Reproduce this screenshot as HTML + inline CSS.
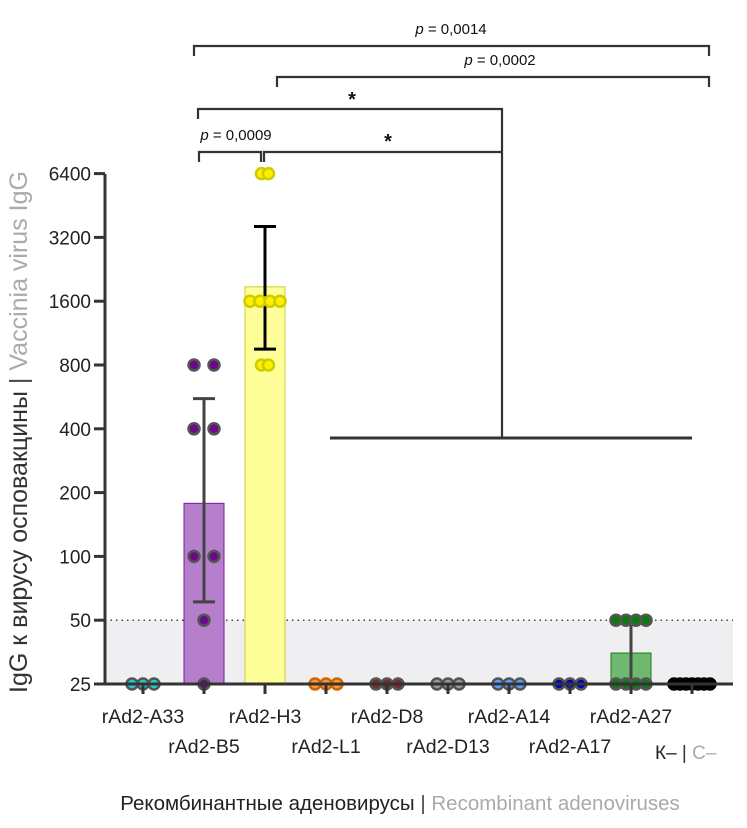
<!DOCTYPE html>
<html><head><meta charset="utf-8"><style>
body{margin:0;background:#fff;}
svg text{font-family:"Liberation Sans","Noto Sans CJK SC",sans-serif;}
</style></head><body>
<svg id="chart" width="747" height="823" viewBox="0 0 747 823" xmlns="http://www.w3.org/2000/svg">
<g id="bg"></g><g id="marks"></g><g id="axes"></g><g id="ann"></g>
</svg>
<script>
const categories=["rAd2-A33","rAd2-B5","rAd2-H3","rAd2-L1","rAd2-D8","rAd2-D13","rAd2-A14","rAd2-A17","rAd2-A27","К–"];
const barMeans=[25,178,1870,25,25,25,25,25,35,25];
const errLow=[null,61,950,null,null,null,null,null,25,null];
const errHigh=[null,555,3600,null,null,null,null,null,50,null];
const points=[[25,25,25],[800,800,400,400,100,100,50,25],[6400,6400,1600,1600,1600,1600,800,800],[25,25,25],[25,25,25],[25,25,25],[25,25,25],[25,25,25],[50,50,50,50,25,25,25,25],[25,25,25,25,25,25,25]];
const yTicks=[25,50,100,200,400,800,1600,3200,6400];
const fills=["#33dddd","#b57fcc","#ffff99","#f09030","#803030","#999999","#5599ee","#0000cc","#6fb86f","#000"];
const dotFill=["#22cccc","#6a0a8a","#ffee00","#ff9933","#7a2a2a","#999","#5aa0ff","#0000cc","#117711","#000"];
const dotStroke=["#555","#555","#cccc00","#cc6600","#555","#555","#555","#555","#555","#000"];
const ns="http://www.w3.org/2000/svg";
function y(v){return 684-63.8*Math.log2(v/25);}
function x(i){return 143+61*i;}
function mk(p,t,a){const e=document.createElementNS(ns,t);for(const k in a)e.setAttribute(k,a[k]);document.getElementById(p).appendChild(e);return e;}
let e=mk("bg","rect",{x:105,y:y(50),width:628,height:y(25)-y(50),fill:"#efeff1"});

e=mk("bg","line",{x1:105,x2:733,y1:y(50),y2:y(50),stroke:"#444","stroke-dasharray":"1.5,4","stroke-width":1.5});

categories.forEach((c,i)=>{
 const cx=x(i);
 if(barMeans[i]>25){
  e=mk("marks","rect",{x:cx-20,y:y(barMeans[i]),width:40,height:684-y(barMeans[i]),fill:fills[i],stroke:i==1?"#7a1a9a":i==2?"#cccc33":"#1a7a1a","stroke-width":1});
  
 }
 if(errLow[i]!=null){
  const col=i==2?"#000":"#444";
  e=mk("marks","path",{d:`M${cx},${y(errHigh[i])}V${y(errLow[i])}M${cx-11},${y(errHigh[i])}h22M${cx-11},${y(errLow[i])}h22`,stroke:col,"stroke-width":3,fill:"none"});
  
 }
});
categories.forEach((c,i)=>{
 const cx=x(i);const groups={};
 points[i].forEach(v=>{groups[v]=(groups[v]||0)+1;});
 for(const v in groups){
  const n=groups[v];const sp=i==9?6:(i==1?20:(i==2?(n==4?10:7):(n>=4?10:11)));
  for(let k=0;k<n;k++){
   const px=cx+(k-(n-1)/2)*sp;
   e=mk("marks","circle",{cx:px,cy:y(+v),r:5.5,fill:dotFill[i],stroke:dotStroke[i],"stroke-width":2.5});
   
  }
 }
});
e=mk("axes","path",{d:"M105,174V684H733",stroke:"#333","stroke-width":3,fill:"none"});

yTicks.forEach(t=>{
 e=mk("axes","line",{x1:94,x2:105,y1:y(t),y2:y(t),stroke:"#333","stroke-width":3});
 
 e=mk("axes","text",{x:91,y:y(t)+7,"text-anchor":"end","font-size":19,fill:"#222"});e.textContent=t;
 
});
categories.forEach((c,i)=>{
 e=mk("axes","line",{x1:x(i),x2:x(i),y1:684,y2:694,stroke:"#333","stroke-width":3});
 
 if(i<9){
  e=mk("axes","text",{x:x(i),y:i%2==0?723:753,"text-anchor":"middle","font-size":19.5,fill:"#222"});e.textContent=c;
  
 }
});
</script>
<svg style="position:absolute;left:0;top:0" width="747" height="823">
<text x="655" y="759" font-size="19" fill="#222" font-family="Liberation Sans,sans-serif">К– <tspan fill="#333">|</tspan> <tspan fill="#aaa">C–</tspan></text>
<text x="400" y="810" text-anchor="middle" font-size="20.5" fill="#222" font-family="Liberation Sans,sans-serif">Рекомбинантные аденовирусы <tspan fill="#444">|</tspan> <tspan fill="#aaa">Recombinant adenoviruses</tspan></text>
<text transform="translate(27,432) rotate(-90)" text-anchor="middle" font-size="25" fill="#333" font-family="Liberation Sans,sans-serif">IgG к вирусу осповакцины <tspan fill="#444">|</tspan> <tspan fill="#aaa">Vaccinia virus IgG</tspan></text>
<g stroke="#333" stroke-width="2.2" fill="none">
<path d="M194,56V46H709V56"/>
<path d="M277,87V77H709V87"/>
<path d="M198,119V109H502V438"/>
<path d="M199,162V152H261V162"/>
<path d="M264,162V152H502"/>
<path d="M330,438H692" stroke-width="3"/>
</g>
<g font-family="Liberation Sans,sans-serif" font-size="15" fill="#111" text-anchor="middle">
<text x="451" y="34"><tspan font-style="italic">p</tspan> = 0,0014</text>
<text x="500" y="65"><tspan font-style="italic">p</tspan> = 0,0002</text>
<text x="236" y="140"><tspan font-style="italic">p</tspan> = 0,0009</text>
<text x="352" y="106" font-size="20" font-weight="bold">*</text>
<text x="388" y="148" font-size="20" font-weight="bold">*</text>
</g>
</svg>
</body></html>
